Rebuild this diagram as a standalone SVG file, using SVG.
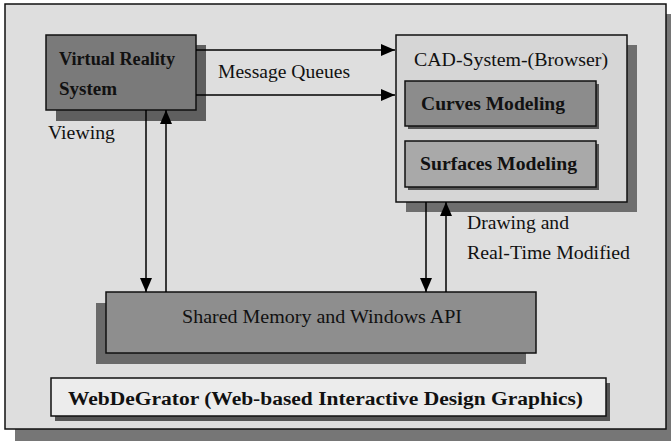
<svg xmlns="http://www.w3.org/2000/svg" width="671" height="441" viewBox="0 0 671 441">
<defs>
<marker id="ah" viewBox="0 0 14 12" refX="14" refY="6" markerWidth="14" markerHeight="12" markerUnits="userSpaceOnUse" orient="auto">
<path d="M0,0 L14,6 L0,12 Z" fill="#000"/>
</marker>
</defs>
<style>
.box{stroke:#111;stroke-width:1.5}
.t{font-family:"Liberation Serif","Times New Roman",serif;font-size:18px;fill:#111}
.b{font-weight:bold}
.c{fill:none;stroke:#000;stroke-width:1.5}
</style>
<rect width="671" height="441" fill="#ffffff"/>
<g id="frame">
<rect x="15" y="14" width="656" height="427" fill="#767676"/>
<rect x="5" y="4" width="661" height="425" fill="#dedede" class="box"/>
</g>
<g id="vr">
<rect x="56" y="45" width="150" height="76" fill="#5f5f5f"/>
<rect x="46" y="35" width="150" height="75" fill="#7a7a7a" class="box"/>
<text class="t b" x="59" y="65" textLength="116" lengthAdjust="spacingAndGlyphs">Virtual Reality</text>
<text class="t b" x="59" y="95" textLength="58" lengthAdjust="spacingAndGlyphs">System</text>
</g>
<g id="cad">
<rect x="406" y="45" width="231" height="167" fill="#6e6e6e"/>
<rect x="396" y="35" width="231" height="167" fill="#d6d6d6" class="box"/>
<text class="t" x="414" y="66" textLength="194" lengthAdjust="spacingAndGlyphs">CAD-System-(Browser)</text>
</g>
<g id="curves">
<rect x="408" y="84" width="191" height="45" fill="#555"/>
<rect x="405" y="81" width="191" height="45" fill="#8c8c8c" class="box"/>
<text class="t b" x="421" y="110" textLength="144" lengthAdjust="spacingAndGlyphs">Curves Modeling</text>
</g>
<g id="surfaces">
<rect x="408" y="144" width="191" height="46" fill="#555"/>
<rect x="405" y="141" width="191" height="46" fill="#a9a9a9" class="box"/>
<text class="t b" x="420" y="170" textLength="157" lengthAdjust="spacingAndGlyphs">Surfaces Modeling</text>
</g>
<g id="shared">
<rect x="96" y="303" width="430" height="61" fill="#6a6a6a"/>
<rect x="106" y="292" width="430" height="61" fill="#8e8e8e" class="box"/>
<text class="t" x="182" y="323" font-size="19" textLength="280" lengthAdjust="spacingAndGlyphs">Shared Memory and Windows API</text>
</g>
<g id="webdegrator">
<rect x="55" y="383" width="555" height="38" fill="#555"/>
<rect x="51" y="378" width="555" height="38" fill="#ececec" class="box"/>
<text class="t b" x="68" y="405" textLength="515" lengthAdjust="spacingAndGlyphs">WebDeGrator (Web-based Interactive Design Graphics)</text>
</g>
<g id="connectors">
<line class="c" x1="196" y1="50" x2="395" y2="50" marker-end="url(#ah)"/>
<line class="c" x1="196" y1="95" x2="395" y2="95" marker-end="url(#ah)"/>
<line class="c" x1="146" y1="110" x2="146" y2="292" marker-end="url(#ah)"/>
<line class="c" x1="166" y1="292" x2="166" y2="110" marker-end="url(#ah)"/>
<line class="c" x1="426" y1="202" x2="426" y2="292" marker-end="url(#ah)"/>
<line class="c" x1="446" y1="292" x2="446" y2="202" marker-end="url(#ah)"/>
</g>
<g id="labels">
<text class="t" x="218" y="78" textLength="132" lengthAdjust="spacingAndGlyphs">Message Queues</text>
<text class="t" x="48" y="139" textLength="67" lengthAdjust="spacingAndGlyphs">Viewing</text>
<text class="t" x="467" y="229" textLength="102" lengthAdjust="spacingAndGlyphs">Drawing and</text>
<text class="t" x="467" y="259" textLength="163" lengthAdjust="spacingAndGlyphs">Real-Time Modified</text>
</g>
</svg>
